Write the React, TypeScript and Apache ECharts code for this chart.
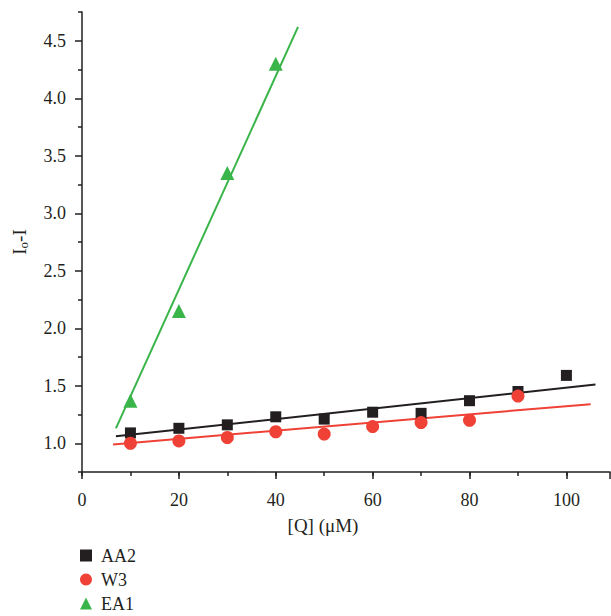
import React, { useEffect, useRef } from "react";
import * as echarts from "echarts";

const xAA2 = [10, 20, 30, 40, 50, 60, 70, 80, 90, 100];
const yAA2 = [1.09, 1.13, 1.16, 1.23, 1.21, 1.27, 1.26, 1.37, 1.45, 1.59];
const xW3 = [10, 20, 30, 40, 50, 60, 70, 80, 90];
const yW3 = [1.0, 1.02, 1.05, 1.1, 1.08, 1.145, 1.18, 1.2, 1.41];
const xEA1 = [10, 20, 30, 40];
const yEA1 = [1.37, 2.15, 3.35, 4.3];

const fitAA2X = [7, 106];
const fitAA2Y = [1.06, 1.51];
const fitW3X = [6.4, 105];
const fitW3Y = [0.99, 1.34];
const fitEA1X = [7, 44.6];
const fitEA1Y = [1.13, 4.62];

const seriesNames = ["AA2", "W3", "EA1"];
const xTickLabels = [0, 20, 40, 60, 80, 100];

const BLACK = "#231f20";
const RED = "#ef4136";
const GREEN = "#39b54a";
const FONT = "Liberation Serif";

const zip = (xs: number[], ys: number[]) => xs.map((x, i) => [x, ys[i]]);

export default function App() {
  const ref = useRef<HTMLDivElement>(null);
  useEffect(() => {
    if (!ref.current) return;
    const chart = echarts.init(ref.current, undefined, { renderer: "svg" });
    const axisLineStyle = { color: BLACK, width: 1.5 };
    chart.setOption({
      animation: false,
      backgroundColor: "#ffffff",
      textStyle: { fontFamily: FONT, color: BLACK },
      grid: { left: 82, right: 1, top: 12, bottom: 144, containLabel: false, outerBoundsMode: "none" },
      legend: {
        data: seriesNames,
        orient: "vertical",
        left: 80,
        top: 546,
        padding: 0,
        itemWidth: 12,
        itemHeight: 12,
        itemGap: 5,
        textStyle: { fontFamily: FONT, fontSize: 18, color: BLACK, lineHeight: 19, padding: [0, 0, 0, 4] },
      },
      xAxis: [
        {
          type: "value",
          min: 0,
          max: 109,
          interval: 10,
          axisLine: { lineStyle: axisLineStyle },
          axisTick: { show: true, length: 4, lineStyle: axisLineStyle },
          splitLine: { show: false },
          axisLabel: {
            margin: 19,
            fontFamily: FONT,
            fontSize: 18,
            color: BLACK,
            showMaxLabel: false,
            formatter: (v: number) => (xTickLabels.indexOf(v) >= 0 ? String(v) : ""),
          },
          name: "[Q] (μM)",
          nameLocation: "middle",
          nameGap: 44,
          nameTextStyle: { fontFamily: FONT, fontSize: 19, color: BLACK, padding: [0, 46, 0, 0] },
        },
        {
          type: "value",
          min: 0,
          max: 109,
          interval: 20,
          position: "bottom",
          offset: 0,
          axisLine: { show: false },
          axisTick: { show: true, length: 7, lineStyle: axisLineStyle },
          splitLine: { show: false },
          axisLabel: { show: false },
        },
      ],
      yAxis: [
        {
          type: "value",
          min: 0.75,
          max: 4.75,
          interval: 0.5,
          position: "left",
          offset: 0,
          axisLine: { show: true, lineStyle: axisLineStyle },
          axisTick: { show: true, length: 4, lineStyle: axisLineStyle },
          minorTick: { show: true, splitNumber: 2, length: 7, lineStyle: axisLineStyle },
          splitLine: { show: false },
          axisLabel: { show: false },
          name: "I{sub|o}-I",
          nameLocation: "middle",
          nameGap: 52,
          nameRotate: 90,
          nameTextStyle: {
            fontFamily: FONT,
            fontSize: 19,
            color: BLACK,
            rich: {
              sub: { fontFamily: FONT, fontSize: 13, color: BLACK, padding: [8, 0, 0, 0] },
            },
          },
        },
        {
          type: "value",
          min: 0.75,
          max: 4.75,
          interval: 0.25,
          position: "left",
          offset: 0,
          axisLine: { show: false },
          axisTick: { show: false },
          splitLine: { show: false },
          axisLabel: {
            margin: 16,
            fontFamily: FONT,
            fontSize: 18,
            color: BLACK,
            formatter: (v: number) =>
              Math.abs(v * 2 - Math.round(v * 2)) < 1e-6 && v >= 1 && v <= 4.5 ? v.toFixed(1) : "",
          },
        },
      ],
      series: [
        {
          name: "AA2 fit",
          type: "line",
          data: zip(fitAA2X, fitAA2Y),
          showSymbol: false,
          symbol: "none",
          lineStyle: { color: BLACK, width: 2 },
          z: 1,
        },
        {
          name: "W3 fit",
          type: "line",
          data: zip(fitW3X, fitW3Y),
          showSymbol: false,
          symbol: "none",
          lineStyle: { color: RED, width: 2 },
          z: 1,
        },
        {
          name: "EA1 fit",
          type: "line",
          data: zip(fitEA1X, fitEA1Y),
          showSymbol: false,
          symbol: "none",
          lineStyle: { color: GREEN, width: 2 },
          z: 1,
        },
        {
          name: "AA2",
          type: "scatter",
          data: zip(xAA2, yAA2),
          symbol: "rect",
          symbolSize: 11,
          itemStyle: { color: BLACK, opacity: 1 },
          z: 3,
        },
        {
          name: "W3",
          type: "scatter",
          data: zip(xW3, yW3),
          symbol: "circle",
          symbolSize: 13,
          itemStyle: { color: RED, opacity: 1 },
          z: 4,
        },
        {
          name: "EA1",
          type: "scatter",
          data: zip(xEA1, yEA1),
          symbol: "triangle",
          symbolSize: 14,
          itemStyle: { color: GREEN, opacity: 1 },
          z: 3,
        },
      ],
    });
    return () => chart.dispose();
  }, []);
  return <div ref={ref} style={{ width: 611, height: 616, position: "absolute", left: 0, top: 0 }} />;
}
